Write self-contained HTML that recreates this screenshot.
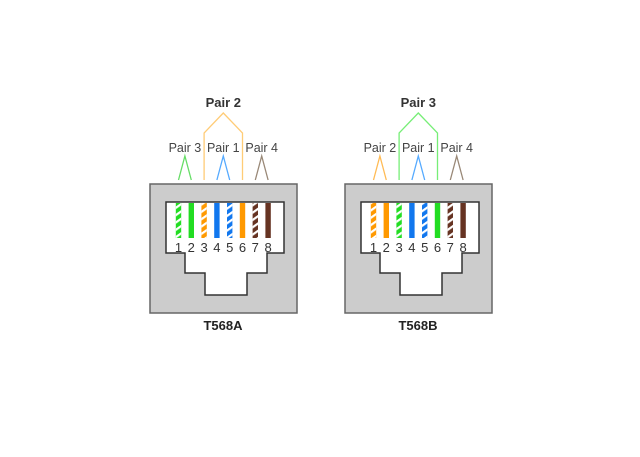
<!DOCTYPE html>
<html><head><meta charset="utf-8"><style>
html,body{margin:0;padding:0;background:#fff;width:640px;height:457px;overflow:hidden}
svg{display:block;font-family:"Liberation Sans",Arial,sans-serif}
</style></head><body>
<svg id="s" width="640" height="457" viewBox="0 0 640 457">
<defs>
<pattern id="stripe" patternUnits="userSpaceOnUse" width="6" height="6" patternTransform="rotate(-35)">
<rect width="6" height="2.2" fill="#fff"/>
</pattern>
</defs>
</svg>
<script>
const standards=['T568A','T568B'];
const pinColors=[
 ['#22dd22','#22dd22','#ff9900','#1177ee','#1177ee','#ff9900','#663322','#663322'],
 ['#ff9900','#ff9900','#22dd22','#1177ee','#1177ee','#22dd22','#663322','#663322']];
const striped=[true,false,true,false,true,false,true,false];
const topPair=['Pair 2','Pair 3'];
const sidePairs=[['Pair 3','Pair 1','Pair 4'],['Pair 2','Pair 1','Pair 4']];
const lineColors=[['#66dd66','#55aaff','#998877','#ffcc77'],['#ffbb55','#55aaff','#998877','#77ee77']];
const NS='http://www.w3.org/2000/svg';
const svg=document.getElementById('s');
function mk(t,a,p){const e=document.createElementNS(NS,t);for(const k in a)e.setAttribute(k,a[k]);(p||svg).appendChild(e);return e;}
standards.forEach((std,j)=>{
 const ox=j*195;
 const g=mk('g',{});
 
 
 mk('rect',{x:150+ox,y:184,width:147,height:129,fill:'#cccccc',stroke:'#666',"stroke-width":1.5},g);
 mk('path',{d:`M${166+ox} 202 H${284+ox} V253 H${267+ox} V273 H${247+ox} V295 H${205+ox} V273 H${185+ox} V253 H${166+ox} Z`,fill:'#fff',stroke:'#333',"stroke-width":1.5},g);
 const px=i=>178.5+ox+i*12.8;
 pinColors[j].forEach((c,i)=>{
  const w=mk('rect',{x:px(i)-2.7,y:203,width:5.4,height:35,fill:c},g);
  
  
  if(striped[i])mk('rect',{x:px(i)-2.7,y:203,width:5.4,height:35,fill:'url(#stripe)'},g);
  const t=mk('text',{x:px(i),y:252,"text-anchor":'middle',"font-size":13,fill:'#333'},g);
  t.textContent=i+1;
  
  
 });
 // chevrons for pairs on pins 1-2, 4-5, 7-8
 [[0,1],[3,4],[6,7]].forEach((p,k)=>{
  const a=px(p[0]),b=px(p[1]),m=(a+b)/2;
  const col=lineColors[j][k];
  mk('polyline',{points:`${a},180 ${m},156 ${b},180`,fill:'none',stroke:col,"stroke-width":1.3},g);
  const t=mk('text',{x:m,y:152,"text-anchor":'middle',"font-size":12.5,fill:'#444'},g);
  t.textContent=sidePairs[j][k];
  
  
 });
 const a=px(2),b=px(5),m=(a+b)/2;
 mk('polyline',{points:`${a},180 ${a},133 ${m},113 ${b},133 ${b},180`,fill:'none',stroke:lineColors[j][3],"stroke-width":1.3},g);
 const t=mk('text',{x:m,y:107,"text-anchor":'middle',"font-size":13,"font-weight":'bold',fill:'#333'},g);
 t.textContent=topPair[j];
 
 
 const s=mk('text',{x:223+ox,y:330,"text-anchor":'middle',"font-size":13,"font-weight":'bold',fill:'#222'},g);
 s.textContent=std;
 
 
});
</script>
</body></html>
